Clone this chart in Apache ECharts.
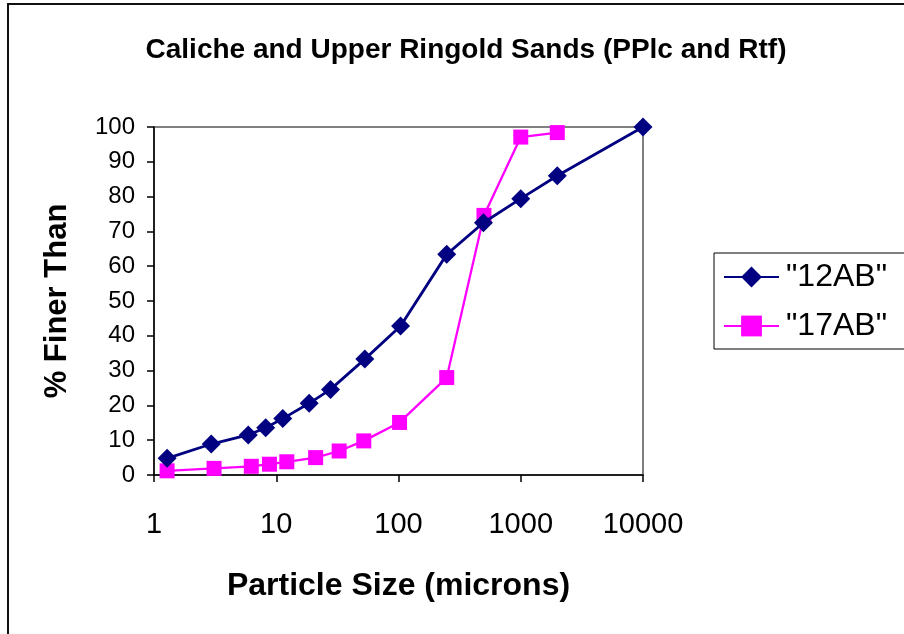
<!DOCTYPE html>
<html>
<head>
<meta charset="utf-8">
<script src="https://cdn.jsdelivr.net/npm/echarts@6/dist/echarts.min.js"></script>
<style>
html,body{margin:0;padding:0;background:#fff;}
#chart{width:904px;height:634px;}
</style>
</head>
<body>
<div id="chart"></div>
<script>
// Particle sizes (microns) and % finer values
const size12AB = [1.28, 2.94, 5.9, 8.2, 11.3, 18.6, 27.8, 53, 104, 248, 495, 1000, 1990, 10000];
const finer12AB = [4.8, 8.9, 11.5, 13.6, 16.2, 20.6, 24.6, 33.3, 42.8, 63.4, 72.5, 79.4, 86.0, 100];
const size17AB = [1.28, 3.1, 6.25, 8.8, 12.2, 21, 32.7, 52, 102, 248, 500, 1000, 1990];
const finer17AB = [1.2, 1.9, 2.5, 3.1, 3.8, 5.0, 6.9, 9.8, 15.1, 28.0, 74.6, 97.1, 98.4];
const xTicks = [1, 10, 100, 1000, 10000];
const yTicks = [0, 10, 20, 30, 40, 50, 60, 70, 80, 90, 100];

const zip = (xs, ys) => xs.map((x, i) => [x, ys[i]]);
const font = 'Liberation Sans, Arial, sans-serif';

const chart = echarts.init(document.getElementById('chart'), null, {renderer: 'canvas'});
chart.setOption({
  backgroundColor: '#ffffff',
  animation: false,
  graphic: [{
    type: 'rect', silent: true,
    shape: {x: 8, y: 4, width: 1000, height: 1000},
    style: {fill: 'none', stroke: '#111', lineWidth: 2}
  }],
  title: {
    text: 'Caliche and Upper Ringold Sands (PPlc and Rtf)',
    left: 461, top: 31, textAlign: 'center',
    textStyle: {fontFamily: font, fontSize: 28, fontWeight: 'bold', color: '#000'}
  },
  grid: {
    left: 154, top: 127, right: 261, bottom: 159,
    show: true, borderColor: '#808080', borderWidth: 2, backgroundColor: 'transparent'
  },
  legend: {
    left: 714, top: 253, orient: 'vertical',
    padding: [8, 30, 7, 9], itemGap: 17,
    itemWidth: 55, itemHeight: 26,
    borderColor: '#000', borderWidth: 1,
    textStyle: {fontFamily: font, fontSize: 32, color: '#000', padding: [0, 0, 0, 2]},
    data: ['"12AB"', '"17AB"']
  },
  xAxis: {
    type: 'log', logBase: 10, min: 1, max: 10000,
    name: 'Particle Size (microns)', nameLocation: 'middle', nameGap: 95,
    nameTextStyle: {fontFamily: font, fontSize: 32, fontWeight: 'bold', color: '#000'},
    axisLine: {show: true, onZero: false, lineStyle: {color: '#000', width: 1.5}},
    axisTick: {show: true, length: 7, inside: false, lineStyle: {color: '#000', width: 1.5}},
    axisLabel: {fontFamily: font, fontSize: 29, color: '#000', margin: 35,
      formatter: v => String(Math.round(v))},
    splitLine: {show: false},
    minorTick: {show: false}
  },
  yAxis: {
    type: 'value', min: 0, max: 100, interval: 10,
    name: '% Finer Than', nameLocation: 'middle', nameGap: 81, nameRotate: 90,
    nameTextStyle: {fontFamily: font, fontSize: 31, fontWeight: 'bold', color: '#000'},
    axisLine: {show: true, lineStyle: {color: '#000', width: 1.5}},
    axisTick: {show: true, length: 7, inside: false, lineStyle: {color: '#000', width: 1.5}},
    axisLabel: {fontFamily: font, fontSize: 24, color: '#000', margin: 19},
    splitLine: {show: false}
  },
  series: [{
    name: '"12AB"', type: 'line', data: zip(size12AB, finer12AB),
    symbol: 'diamond', symbolSize: 19,
    lineStyle: {color: '#000080', width: 2.8},
    itemStyle: {color: '#000080'},
    z: 3
  }, {
    name: '"17AB"', type: 'line', data: zip(size17AB, finer17AB),
    symbol: 'rect', symbolSize: 15,
    lineStyle: {color: '#FF00FF', width: 2.3},
    itemStyle: {color: '#FF00FF'},
    z: 2
  }]
});
</script>
</body>
</html>
